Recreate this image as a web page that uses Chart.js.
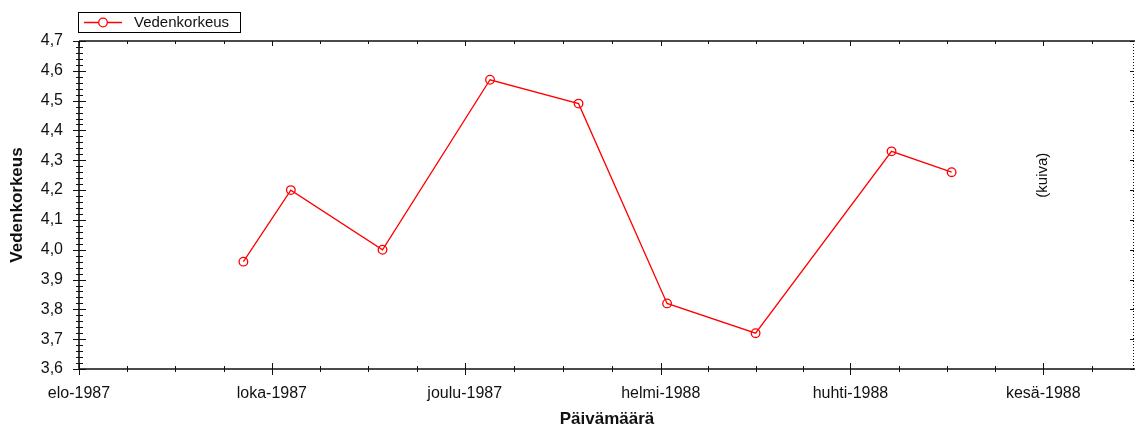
<!DOCTYPE html>
<html>
<head>
<meta charset="utf-8">
<script src="https://cdn.jsdelivr.net/npm/chart.js@4/dist/chart.umd.min.js"></script>
<style>
  html, body { margin: 0; padding: 0; background: #fff; }
  #wrap { width: 1136px; height: 432px; position: relative; }
</style>
</head>
<body>
<div id="wrap"><canvas id="chart" width="1136" height="432"></canvas></div>
<script>
// データ
const measureDates = ['1987-09-22', '1987-10-07', '1987-11-05', '1987-12-09', '1988-01-06',
                      '1988-02-03', '1988-03-02', '1988-04-14', '1988-05-03'];
const waterLevels = [3.96, 4.20, 4.00, 4.57, 4.49, 3.82, 3.72, 4.33, 4.26];

// 軸ラベル
const xTickDates = ['1987-08-01', '1987-10-01', '1987-12-01', '1988-02-01', '1988-04-01', '1988-06-01'];
const xTickLabels = ['elo-1987', 'loka-1987', 'joulu-1987', 'helmi-1988', 'huhti-1988', 'kesä-1988'];
const yTicks = [3.6, 3.7, 3.8, 3.9, 4.0, 4.1, 4.2, 4.3, 4.4, 4.5, 4.6, 4.7];

// 注記 (kuiva)
const noteText = '(kuiva)';
const noteDate = '1988-06-01';
const noteLevel = 4.25;

const xStart = '1987-08-01';
const xEnd = '1988-06-30';
const FONT = '"Liberation Sans", Arial, sans-serif';

// 日付 -> 開始日からの日数
function dayNum(s) {
    const p = s.split('-').map(Number);
    const a = Date.UTC(p[0], p[1] - 1, p[2]);
    const b = xStart.split('-').map(Number);
    return (a - Date.UTC(b[0], b[1] - 1, b[2])) / 86400000;
}

const points = measureDates.map((d, i) => ({ x: dayNum(d), y: waterLevels[i] }));

// 軸線・目盛り・凡例・注記を描くプラグイン
const framePlugin = {
    id: 'frame',
    afterDraw(chart) {
        const ctx = chart.ctx;
        const xs = chart.scales.x, ys = chart.scales.y;
        const { left, right, top, bottom } = chart.chartArea;
        ctx.save();

        // x 目盛り (主 + 4分割の副)
        const majors = xTickDates.map(dayNum);
        const xMinor = [];
        majors.forEach((v, i) => {
            const step = i < majors.length - 1 ? (majors[i + 1] - v) / 4 : (majors[i] - majors[i - 1]) / 4;
            for (let k = 1; k < 4; k++) if (v + step * k <= xs.max) xMinor.push(v + step * k);
        });
        ctx.strokeStyle = '#111';
        ctx.lineWidth = 1;
        ctx.beginPath();
        majors.forEach(v => {
            const px = Math.round(xs.getPixelForValue(v)) + 0.5;
            ctx.moveTo(px, bottom - 6); ctx.lineTo(px, bottom + 6);
            ctx.moveTo(px, top); ctx.lineTo(px, top + 5);
        });
        xMinor.forEach(v => {
            const px = Math.round(xs.getPixelForValue(v)) + 0.5;
            ctx.moveTo(px, bottom - 3); ctx.lineTo(px, bottom + 3);
            ctx.moveTo(px, top); ctx.lineTo(px, top + 3);
        });

        // y 目盛り (主 0.1, 副 0.02)
        yTicks.forEach((v, i) => {
            const py = Math.round(ys.getPixelForValue(v)) + 0.5;
            ctx.moveTo(left - 6, py); ctx.lineTo(left + 7, py);
            ctx.moveTo(right - 1, py); ctx.lineTo(right - 5, py);
            if (i < yTicks.length - 1) {
                for (let k = 1; k < 5; k++) {
                    const pm = Math.round(ys.getPixelForValue(v + (yTicks[i + 1] - v) * k / 5)) + 0.5;
                    ctx.moveTo(left - 3, pm); ctx.lineTo(left + 4, pm);
                }
            }
        });
        ctx.stroke();

        // 軸線
        ctx.lineWidth = 1.6;
        ctx.beginPath();
        ctx.moveTo(left, top); ctx.lineTo(left, bottom);
        ctx.moveTo(left, bottom); ctx.lineTo(right, bottom);
        ctx.moveTo(left, top); ctx.lineTo(right, top);
        ctx.stroke();
        ctx.lineWidth = 1;
        ctx.setLineDash([1, 2]);
        ctx.beginPath();
        ctx.moveTo(right - 1.5, top); ctx.lineTo(right - 1.5, bottom);
        ctx.stroke();
        ctx.setLineDash([]);

        // 凡例
        const ds = chart.data.datasets[0];
        ctx.strokeStyle = '#000';
        ctx.lineWidth = 1;
        ctx.strokeRect(78.5, 12.5, 162, 20);
        ctx.strokeStyle = ds.borderColor;
        ctx.lineWidth = 1.3;
        ctx.beginPath();
        ctx.moveTo(84, 22.5); ctx.lineTo(122, 22.5);
        ctx.stroke();
        ctx.fillStyle = '#fff';
        ctx.beginPath();
        ctx.arc(103, 22.5, 4.3, 0, Math.PI * 2);
        ctx.fill(); ctx.stroke();
        ctx.fillStyle = '#111';
        ctx.font = '15px ' + FONT;
        ctx.textBaseline = 'middle';
        ctx.textAlign = 'left';
        ctx.fillText(ds.label, 134, 22.5);

        // 注記
        ctx.translate(xs.getPixelForValue(dayNum(noteDate)), ys.getPixelForValue(noteLevel));
        ctx.rotate(-Math.PI / 2);
        ctx.textAlign = 'center';
        ctx.fillText(noteText, 0, 0);
        ctx.restore();
    }
};

const ctx = document.getElementById('chart').getContext('2d');
new Chart(ctx, {
    type: 'line',
    data: {
        datasets: [{
            label: 'Vedenkorkeus',
            data: points,
            borderColor: '#ff0000',
            borderWidth: 1.3,
            tension: 0,
            pointStyle: 'circle',
            pointRadius: 4.3,
            pointBorderWidth: 1.3,
            pointBorderColor: '#ff0000',
            pointBackgroundColor: 'rgba(0,0,0,0)'
        }]
    },
    options: {
        responsive: false,
        animation: false,
        layout: { autoPadding: false, padding: { top: 41, right: 1, left: 0, bottom: 0 } },
        plugins: { legend: { display: false }, tooltip: { enabled: false } },
        scales: {
            x: {
                type: 'linear',
                min: 0,
                max: dayNum(xEnd),
                afterBuildTicks: s => { s.ticks = xTickDates.map(d => ({ value: dayNum(d) })); },
                afterFit: s => { s.height = 63; },
                grid: { display: false, drawTicks: false },
                border: { display: false },
                ticks: {
                    autoSkip: false, maxRotation: 0, padding: 15,
                    color: '#111', font: { family: FONT, size: 16 },
                    callback: (v, i) => xTickLabels[i]
                },
                title: {
                    display: true, text: 'Päivämäärä', color: '#111',
                    font: { family: FONT, size: 17, weight: 'bold' },
                    padding: { top: 0, bottom: 2 }
                }
            },
            y: {
                min: yTicks[0],
                max: yTicks[yTicks.length - 1],
                afterBuildTicks: s => { s.ticks = yTicks.map(v => ({ value: v })); },
                afterFit: s => { s.width = 79; },
                grid: { display: false, drawTicks: false },
                border: { display: false },
                ticks: {
                    padding: 16, color: '#111', font: { family: FONT, size: 16 },
                    callback: v => v.toFixed(1).replace('.', ',')
                },
                title: {
                    display: true, text: 'Vedenkorkeus', color: '#111',
                    font: { family: FONT, size: 17, weight: 'bold' },
                    padding: { top: 7, bottom: 0 }
                }
            }
        }
    },
    plugins: [framePlugin]
});
</script>
</body>
</html>
